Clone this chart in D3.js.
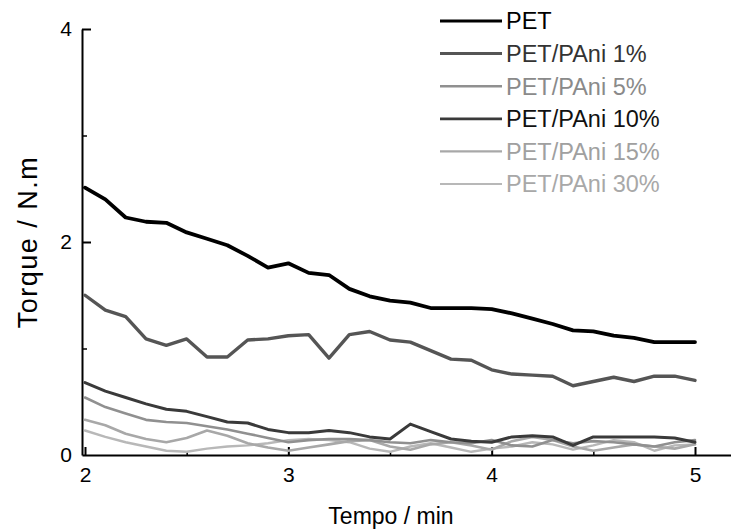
<!DOCTYPE html>
<html>
<head>
<meta charset="utf-8">
<script src="https://cdn.jsdelivr.net/npm/d3@7"></script>
<style>
  html, body { margin: 0; padding: 0; background: #fff; }
  svg { display: block; font-family: "Liberation Sans", Arial, sans-serif; }
</style>
</head>
<body>
<svg id="chart" width="731" height="531"></svg>
<script>
// ---- data ----
const tempo = [2.0,2.1,2.2,2.3,2.4,2.5,2.6,2.7,2.8,2.9,3.0,3.1,3.2,3.3,3.4,3.5,3.6,3.7,3.8,3.9,4.0,4.1,4.2,4.3,4.4,4.5,4.6,4.7,4.8,4.9,5.0];
const seriesNames = ["PET", "PET/PAni 1%", "PET/PAni 5%", "PET/PAni 10%", "PET/PAni 15%", "PET/PAni 30%"];
const pet     = [2.51,2.40,2.23,2.19,2.18,2.09,2.03,1.97,1.87,1.76,1.80,1.71,1.69,1.56,1.49,1.45,1.43,1.38,1.38,1.38,1.37,1.33,1.28,1.23,1.17,1.16,1.12,1.10,1.06,1.06,1.06];
const pani1   = [1.50,1.36,1.30,1.09,1.03,1.09,0.92,0.92,1.08,1.09,1.12,1.13,0.91,1.13,1.16,1.08,1.06,0.98,0.90,0.89,0.80,0.76,0.75,0.74,0.65,0.69,0.73,0.69,0.74,0.74,0.70];
const pani5   = [0.54,0.45,0.39,0.33,0.31,0.30,0.27,0.24,0.20,0.16,0.12,0.14,0.15,0.15,0.14,0.12,0.11,0.14,0.12,0.11,0.14,0.09,0.08,0.14,0.11,0.13,0.12,0.10,0.08,0.12,0.14];
const pani10  = [0.68,0.60,0.54,0.48,0.43,0.41,0.36,0.31,0.30,0.24,0.21,0.21,0.23,0.21,0.17,0.15,0.29,0.22,0.15,0.13,0.12,0.17,0.18,0.17,0.09,0.17,0.17,0.17,0.17,0.16,0.12];
const pani15  = [0.33,0.28,0.20,0.15,0.12,0.16,0.23,0.18,0.11,0.07,0.04,0.07,0.10,0.13,0.14,0.08,0.05,0.10,0.12,0.09,0.05,0.13,0.17,0.14,0.08,0.04,0.07,0.10,0.08,0.06,0.10];
const pani30  = [0.23,0.17,0.12,0.08,0.04,0.03,0.06,0.08,0.09,0.11,0.14,0.15,0.14,0.12,0.06,0.03,0.08,0.11,0.07,0.03,0.06,0.08,0.12,0.10,0.05,0.09,0.14,0.12,0.04,0.09,0.10];
const xMajorTicks = [2, 3, 4, 5];
const xMinorTicks = [2.5, 3.5, 4.5];
const yMajorTicks = [0, 2, 4];
const yMinorTicks = [1, 3];

// ---- styles ----
const styles = [
  { stroke: "#000000", width: 3.8, lw: 3.2, text: "#000000" },
  { stroke: "#555555", width: 3.4, lw: 3.0, text: "#333333" },
  { stroke: "#909090", width: 2.6, lw: 2.4, text: "#8a8a8a" },
  { stroke: "#3a3a3a", width: 3.0, lw: 2.8, text: "#111111" },
  { stroke: "#a8a8a8", width: 2.6, lw: 2.4, text: "#a0a0a0" },
  { stroke: "#b8b8b8", width: 2.4, lw: 2.2, text: "#a8a8a8" }
];
const allValues = [pet, pani1, pani5, pani10, pani15, pani30];

const svg = d3.select("#chart");
const x = d3.scaleLinear().domain([2, 5]).range([85, 695]);
const y = d3.scaleLinear().domain([0, 4]).range([455, 29]);
const xAxisScale = x.copy().domain([x.invert(82), x.invert(731)]).range([82, 731]);

// axes
const gx = svg.append("g").attr("transform", `translate(0,${y(0)})`)
  .call(d3.axisBottom(xAxisScale).tickValues(xMajorTicks).tickSize(-8).tickSizeOuter(0).tickPadding(12).tickFormat(d3.format("d")));
gx.select(".domain").attr("stroke", "#000").attr("stroke-width", 2);
gx.selectAll(".tick line").attr("stroke", "#000").attr("stroke-width", 2);
gx.selectAll(".tick text").attr("font-size", 21).attr("fill", "#000").attr("font-family", "Liberation Sans, Arial, sans-serif");

const gxm = svg.append("g").attr("transform", `translate(0,${y(0)})`)
  .call(d3.axisBottom(xAxisScale).tickValues(xMinorTicks).tickSize(-4).tickSizeOuter(0).tickFormat(""));
gxm.select(".domain").remove();
gxm.selectAll(".tick line").attr("stroke", "#000").attr("stroke-width", 1.5);

const gy = svg.append("g").attr("transform", `translate(82,0)`)
  .call(d3.axisLeft(y).tickValues(yMajorTicks).tickSize(-9).tickSizeOuter(0).tickPadding(10).tickFormat(d3.format("d")));
gy.select(".domain").attr("stroke", "#000").attr("stroke-width", 2);
gy.selectAll(".tick line").attr("stroke", "#000").attr("stroke-width", 2);
gy.selectAll(".tick text").attr("font-size", 21).attr("fill", "#000").attr("font-family", "Liberation Sans, Arial, sans-serif");
gy.selectAll(".tick").filter(d => d === 0).select("line").remove();

const gym = svg.append("g").attr("transform", `translate(82,0)`)
  .call(d3.axisLeft(y).tickValues(yMinorTicks).tickSize(-5).tickSizeOuter(0).tickFormat(""));
gym.select(".domain").remove();
gym.selectAll(".tick line").attr("stroke", "#000").attr("stroke-width", 1.5);

// lines
const line = d3.line().x((d, i) => x(tempo[i])).y(d => y(d));
const drawOrder = [5, 4, 2, 3, 1, 0];
drawOrder.forEach(k => {
  svg.append("path")
    .datum(allValues[k])
    .attr("d", line)
    .attr("fill", "none")
    .attr("stroke", styles[k].stroke)
    .attr("stroke-width", styles[k].width)
    .attr("stroke-linejoin", "round")
    .attr("stroke-linecap", "round");
});

// legend
const legendY = d3.scalePoint().domain(seriesNames).range([21, 184]);
const lg = svg.append("g");
seriesNames.forEach((name, k) => {
  const yy = legendY(name);
  lg.append("line").attr("x1", 440).attr("x2", 502).attr("y1", yy).attr("y2", yy)
    .attr("stroke", styles[k].stroke).attr("stroke-width", styles[k].lw);
  lg.append("text").attr("x", 506).attr("y", yy).attr("dy", "0.36em")
    .attr("font-size", 23.5).attr("fill", styles[k].text).text(name);
});

// titles
svg.append("text").attr("x", 391).attr("y", 524).attr("text-anchor", "middle")
  .attr("font-size", 23).attr("fill", "#000").text("Tempo / min");
svg.append("text").attr("transform", `translate(37,${y(2)}) rotate(-90)`)
  .attr("text-anchor", "middle").attr("font-size", 27).attr("letter-spacing", 1.5)
  .attr("fill", "#000").text("Torque / N.m");
</script>
</body>
</html>
